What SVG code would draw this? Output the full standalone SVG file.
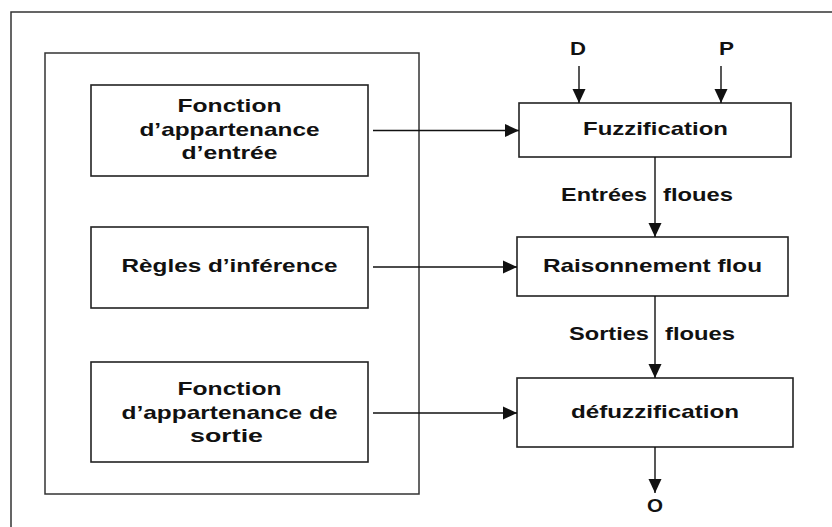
<svg xmlns="http://www.w3.org/2000/svg" width="832" height="527" viewBox="0 0 832 527">
<style>
.box{fill:#fff;stroke:#222;stroke-width:1.6}
.frame{fill:none;stroke:#333;stroke-width:1.5}
.t{font-family:"Liberation Sans",Arial,sans-serif;font-weight:bold;font-size:18.5px;fill:#111;text-anchor:middle}
.tl{font-family:"Liberation Sans",Arial,sans-serif;font-weight:bold;font-size:18.5px;fill:#111}
.c{fill:none;stroke:#111;stroke-width:1.4}
</style>
<defs>
<marker id="ah" markerWidth="14" markerHeight="14" viewBox="0 0 14 14" refX="14" refY="7" orient="auto" markerUnits="userSpaceOnUse">
<path d="M0,0.5 L14,7 L0,13.5 Z" fill="#111"/>
</marker>
</defs>
<rect width="832" height="527" fill="#fff"/>
<g id="outer-frame"><rect class="frame" x="11" y="12" width="830" height="530"/></g>
<g id="knowledge-base"><rect class="frame" x="45" y="53" width="374" height="441"/></g>
<g id="fonction-entree">
<rect class="box" x="91" y="85" width="277" height="91"/>
<text class="t" x="229.5" y="112" textLength="104" lengthAdjust="spacingAndGlyphs">Fonction</text>
<text class="t" x="229.5" y="136" textLength="180" lengthAdjust="spacingAndGlyphs">d’appartenance</text>
<text class="t" x="229.5" y="159" textLength="96" lengthAdjust="spacingAndGlyphs">d’entrée</text>
</g>
<g id="regles">
<rect class="box" x="91" y="227" width="277" height="81"/>
<text class="t" x="229.5" y="272" textLength="216" lengthAdjust="spacingAndGlyphs">Règles d’inférence</text>
</g>
<g id="fonction-sortie">
<rect class="box" x="91" y="362" width="277" height="100"/>
<text class="t" x="229.5" y="395" textLength="104" lengthAdjust="spacingAndGlyphs">Fonction</text>
<text class="t" x="229.5" y="419" textLength="216" lengthAdjust="spacingAndGlyphs">d’appartenance de</text>
<text class="t" x="226.5" y="442" textLength="73" lengthAdjust="spacingAndGlyphs">sortie</text>
</g>
<g id="fuzzification">
<rect class="box" x="519" y="103" width="272" height="54"/>
<text class="t" x="655.5" y="135" textLength="145" lengthAdjust="spacingAndGlyphs">Fuzzification</text>
</g>
<g id="raisonnement">
<rect class="box" x="517" y="237" width="271" height="59"/>
<text class="t" x="652.5" y="272" textLength="219" lengthAdjust="spacingAndGlyphs">Raisonnement flou</text>
</g>
<g id="defuzzification">
<rect class="box" x="517" y="378" width="276" height="69"/>
<text class="t" x="655" y="418" textLength="168" lengthAdjust="spacingAndGlyphs">défuzzification</text>
</g>
<g id="input-D"><text class="t" x="578" y="55" textLength="16" lengthAdjust="spacingAndGlyphs">D</text></g>
<g id="input-P"><text class="t" x="726.5" y="55" textLength="15" lengthAdjust="spacingAndGlyphs">P</text></g>
<g id="output-O"><text class="t" x="655" y="512" textLength="16" lengthAdjust="spacingAndGlyphs">O</text></g>
<g id="connectors">
<line class="c" x1="373" y1="130.5" x2="519" y2="130.5" marker-end="url(#ah)"/>
<line class="c" x1="373" y1="267" x2="517" y2="267" marker-end="url(#ah)"/>
<line class="c" x1="373" y1="413" x2="517" y2="413" marker-end="url(#ah)"/>
<line class="c" x1="579" y1="66" x2="579" y2="103" marker-end="url(#ah)"/>
<line class="c" x1="721" y1="66" x2="721" y2="103" marker-end="url(#ah)"/>
<line class="c" x1="655" y1="157" x2="655" y2="237" marker-end="url(#ah)"/>
<line class="c" x1="655" y1="296" x2="655" y2="378" marker-end="url(#ah)"/>
<line class="c" x1="655" y1="447" x2="655" y2="493" marker-end="url(#ah)"/>
<text class="tl" x="561" y="201" textLength="86" lengthAdjust="spacingAndGlyphs">Entrées</text>
<text class="tl" x="663" y="201" textLength="70" lengthAdjust="spacingAndGlyphs">floues</text>
<text class="tl" x="569" y="340" textLength="80" lengthAdjust="spacingAndGlyphs">Sorties</text>
<text class="tl" x="665" y="340" textLength="70" lengthAdjust="spacingAndGlyphs">floues</text>
</g>
</svg>
